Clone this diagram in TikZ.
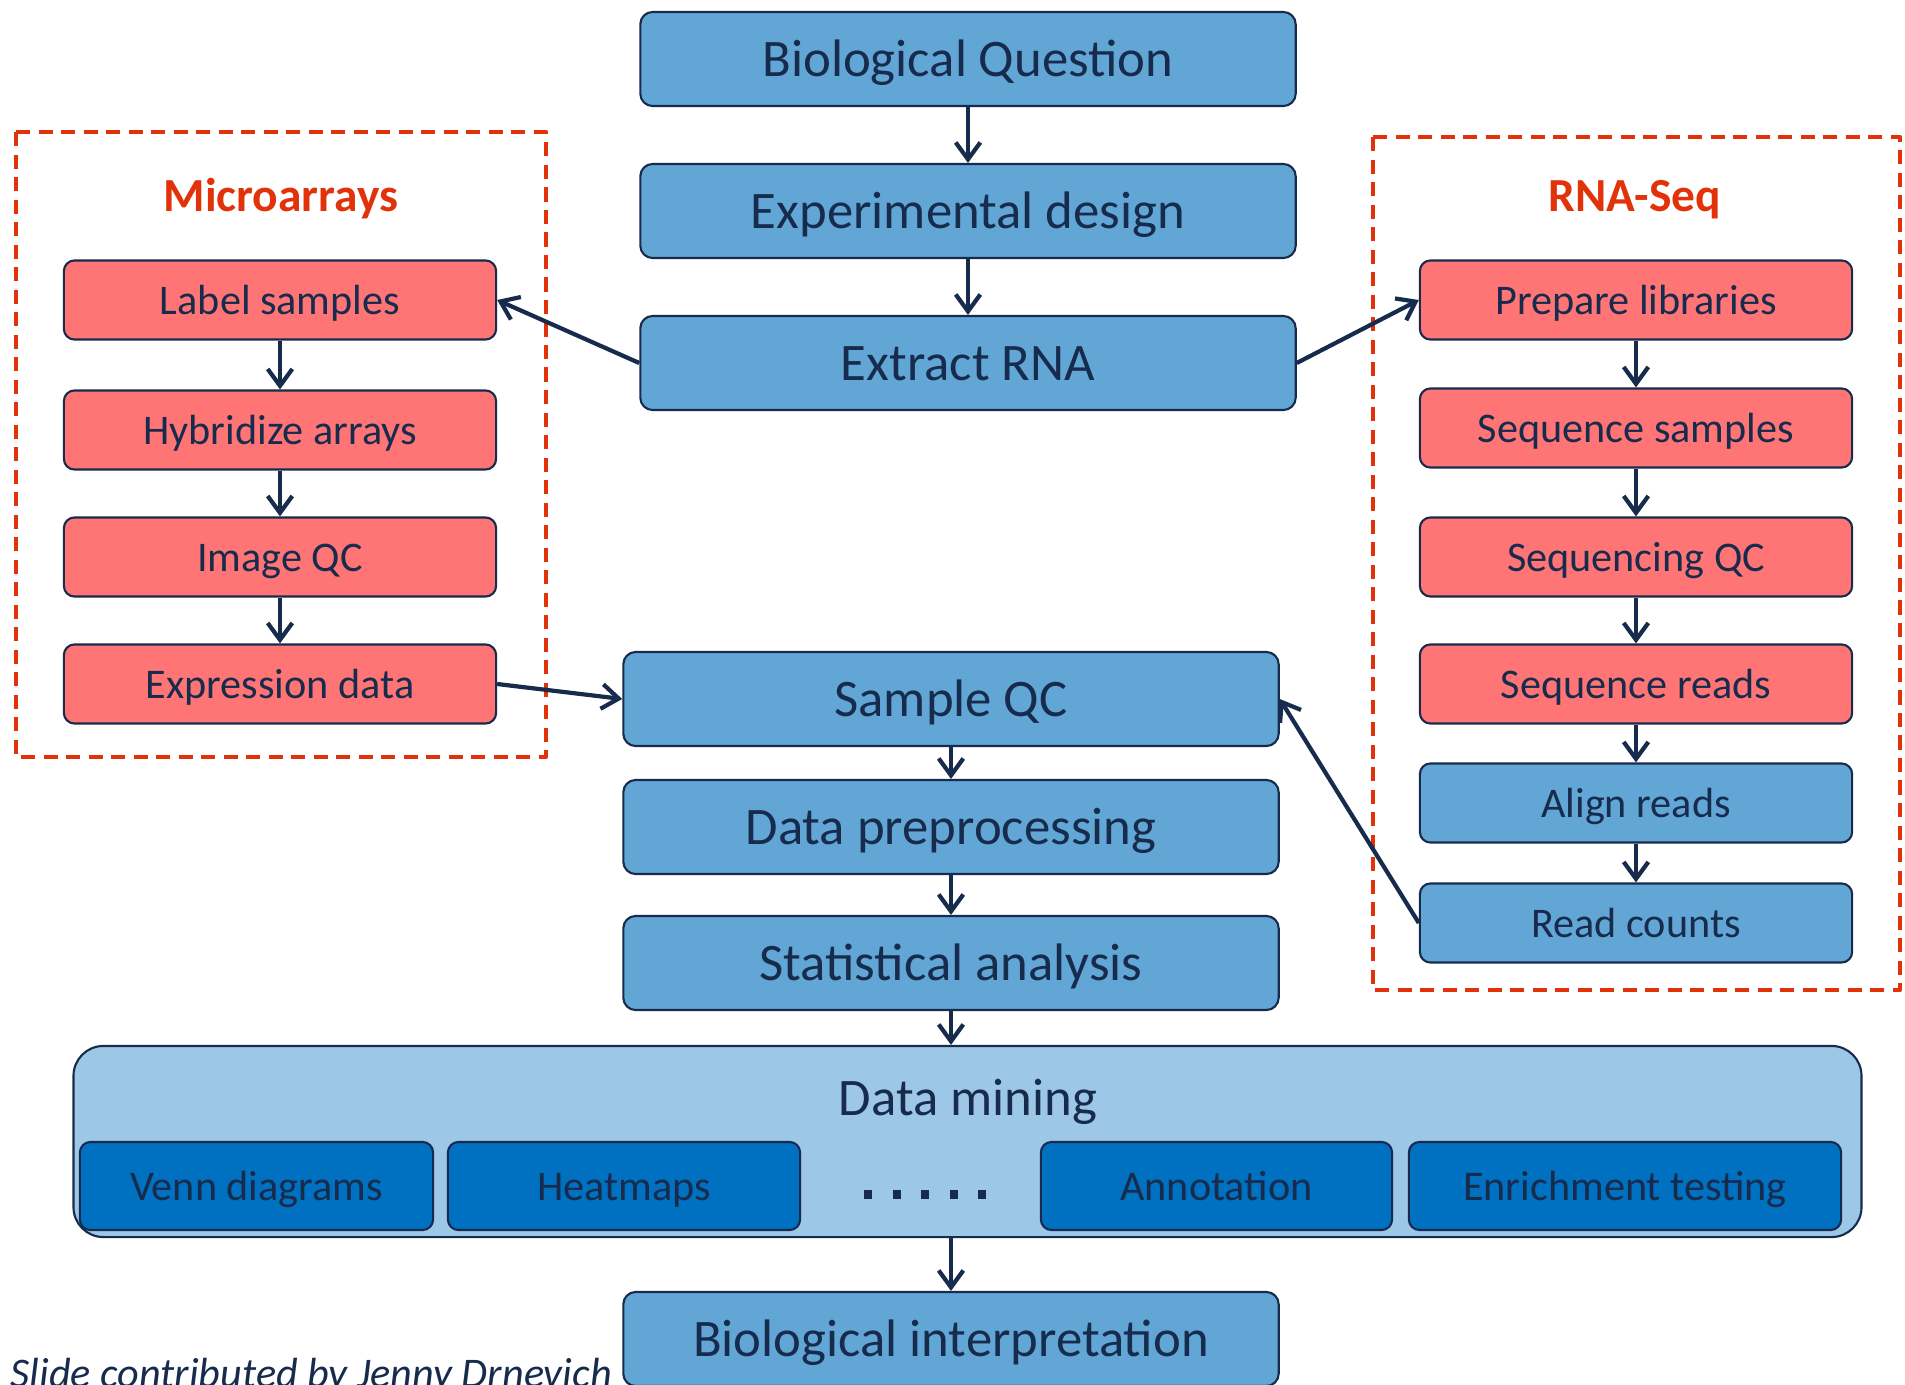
\documentclass[tikz,border=0pt]{standalone}
\usepackage{fontspec}
\setmainfont{Carlito}
\usepackage{xcolor}
\usetikzlibrary{arrows.meta}

\definecolor{navy}{RGB}{23,43,77}
\definecolor{boxblue}{RGB}{98,166,214}
\definecolor{boxred}{RGB}{255,117,117}
\definecolor{paleblue}{RGB}{157,199,230}
\definecolor{deepblue}{RGB}{0,112,192}
\definecolor{dashred}{RGB}{226,50,10}

\begin{document}
\begin{tikzpicture}[x=0.01cm, y=-0.01cm, line join=round,
    bigbox/.style={draw=navy, line width=0.6pt, fill=boxblue, rounded corners=3.5pt,
      minimum width=6.55cm, minimum height=0.94cm, text=navy,
      text height=11pt, text depth=1pt,
      font=\fontsize{15}{18}\selectfont},
    smallbox/.style={draw=navy, line width=0.6pt, fill=boxred, rounded corners=3pt,
      minimum width=4.32cm, minimum height=0.79cm, text=navy,
      text height=8.8pt, text depth=0.8pt,
      font=\fontsize{12}{14}\selectfont},
    toolbox/.style={smallbox, fill=deepblue, minimum height=0.88cm},
    groupbox/.style={draw=dashred, line width=1.2pt, dash pattern=on 4pt off 2.4pt},
    grouptitle/.style={text=dashred, text height=9.9pt, text depth=0.9pt,
      font=\bfseries\fontsize{13.5}{16}\selectfont},
    link/.style={draw=navy, line width=1.2pt, -{Straight Barb[length=4.8pt,width=7pt]}}]
\path[use as bounding box, clip] (0,0) rectangle (1905,1385);

% --- 1. THE MAIN COLUMN (TOP) ---
  \node[bigbox] (question) at (968,59)  {Biological Question};
  \node[bigbox] (design)   at (968,211) {Experimental design};
  \node[bigbox] (extract)  at (968,363) {Extract RNA};

% --- 2. MICROARRAYS BRANCH ---
  \draw[groupbox] (16,132) rectangle (546,757);
  \node[grouptitle] (microtitle) at (281,196) {Microarrays};
  \node[smallbox] (labelsamp) at (280,300) {Label samples};
  \node[smallbox] (hybrid)    at (280,430) {Hybridize arrays};
  \node[smallbox] (imageqc)   at (280,557) {Image QC};
  \node[smallbox] (exprdata)  at (280,684) {Expression data};

% --- 3. RNA-SEQ BRANCH ---
  \draw[groupbox] (1373,137) rectangle (1900,990);
  \node[grouptitle] (rnatitle) at (1635,196) {RNA-Seq};
  \node[smallbox] (preplib)  at (1636,300) {Prepare libraries};
  \node[smallbox] (seqsamp)  at (1636,428) {Sequence samples};
  \node[smallbox] (seqqc)    at (1636,557) {Sequencing QC};
  \node[smallbox] (seqreads) at (1636,684) {Sequence reads};
  \node[smallbox, fill=boxblue] (align)  at (1636,803) {Align reads};
  \node[smallbox, fill=boxblue] (counts) at (1636,923) {Read counts};

% --- 4. THE MAIN COLUMN (BOTTOM) ---
  \node[bigbox] (sampleqc) at (951,699) {Sample QC};
  \node[bigbox] (preproc)  at (951,827) {Data preprocessing};
  \node[bigbox] (stats)    at (951,963) {Statistical analysis};

  % Data mining block with its tools
  \node[draw=navy, line width=0.6pt, fill=paleblue, rounded corners=8.5pt,
    minimum width=17.87cm, minimum height=1.91cm] (mining) at (967.5,1141.5) {};
  \node[text=navy, text height=11pt, text depth=1pt,
    font=\fontsize{15}{18}\selectfont] (miningtitle) at (968,1098) {Data mining};
  \node[toolbox, minimum width=3.53cm] (venn)    at (256.5,1186) {Venn diagrams};
  \node[toolbox, minimum width=3.52cm] (heatmap) at (624,1186)   {Heatmaps};
  \node[toolbox, minimum width=3.51cm] (annot)   at (1216.5,1186) {Annotation};
  \node[toolbox, minimum width=4.32cm] (enrich)  at (1625,1186)  {Enrichment testing};
  \foreach \k in {0,...,4}
    \fill[navy] (864+\k*28.5,1190) rectangle +(8,9);

  \node[bigbox] (interp) at (951,1339) {Biological interpretation};
  \node[anchor=base west, inner sep=0pt, text=navy, font=\itshape\fontsize{12}{14}\selectfont]
    (credit) at (10,1387) {Slide contributed by Jenny Drnevich};

% --- 5. THE ARROWS ---
  \draw[link] (question) -- (design);
  \draw[link] (design) -- (extract);
  \draw[link] (extract.west) -- (labelsamp.east);
  \draw[link] (extract.east) -- (preplib.west);
  \draw[link] (labelsamp) -- (hybrid);
  \draw[link] (hybrid) -- (imageqc);
  \draw[link] (imageqc) -- (exprdata);
  \draw[link] (exprdata.east) -- (sampleqc.west);
  \draw[link] (preplib) -- (seqsamp);
  \draw[link] (seqsamp) -- (seqqc);
  \draw[link] (seqqc) -- (seqreads);
  \draw[link] (seqreads) -- (align);
  \draw[link] (align) -- (counts);
  \draw[link] (counts.west) -- (sampleqc.east);
  \draw[link] (sampleqc) -- (preproc);
  \draw[link] (preproc) -- (stats);
  \draw[link] (stats) -- (stats |- mining.north);
  \draw[link] (stats |- mining.south) -- (interp);
\end{tikzpicture}
\end{document}
